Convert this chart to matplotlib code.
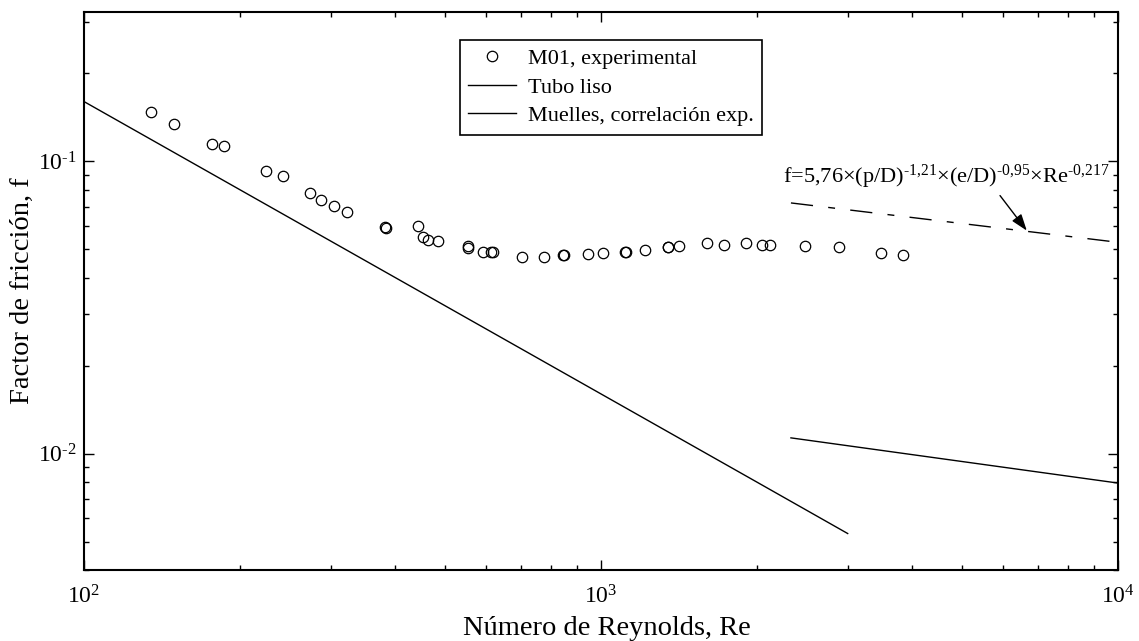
import matplotlib
matplotlib.use("Agg")
import matplotlib.pyplot as plt
from matplotlib.ticker import LogLocator, NullFormatter, FuncFormatter
import numpy as np

plt.rcParams["font.family"] = ["Liberation Serif", "DejaVu Serif"]
plt.rcParams["mathtext.fontset"] = "custom"
plt.rcParams["mathtext.rm"] = "Liberation Serif"
plt.rcParams["mathtext.it"] = "Liberation Serif:italic"
plt.rcParams["mathtext.default"] = "regular"

# M01 spring insert, measured friction factor
re_exp = [134.6, 149.5, 176.6, 186.8, 224.9, 242.6, 273.6, 287.0, 304.6, 322.7,
          382.6, 383.5, 442.0, 453.0, 463.0, 484.5, 552.0, 552.5, 590.0, 612.0,
          618.0, 704.0, 776.0, 843.0, 848.0, 944.0, 1010.0, 1112.0, 1118.0, 1216.0,
          1345.0, 1350.0, 1415.0, 1603.0, 1729.0, 1908.0, 2048.0, 2123.0, 2481.0,
          2886.0, 3480.0, 3838.0]
f_exp = [0.147, 0.134, 0.1147, 0.1126, 0.0924, 0.0888, 0.0777, 0.0737, 0.0705, 0.0672,
         0.0594, 0.0592, 0.0602, 0.0549, 0.0539, 0.0535, 0.0514, 0.0503, 0.0489, 0.0490,
         0.0489, 0.0469, 0.0469, 0.0479, 0.0478, 0.0481, 0.0484, 0.0491, 0.0488, 0.0498,
         0.0510, 0.0508, 0.0514, 0.0524, 0.0518, 0.0524, 0.0518, 0.0518, 0.0514,
         0.0507, 0.0486, 0.0478]

# smooth tube, laminar
re_liso = [100, 200, 500, 1000, 2000, 3000]
f_liso = [0.16, 0.08, 0.032, 0.016, 0.008, 0.00533]

# spring correlation curves
re_corr = [2330, 10000]
f_corr_low = [0.01132, 0.00793]
f_corr = [0.0720, 0.0528]


def pow10(v, pos):
    e = int(round(np.log10(v)))
    if e < 0:
        return "10$^{\\text{-}%d}$" % (-e)
    return "10$^{%d}$" % e


fig = plt.figure(figsize=(11.39, 6.41), dpi=100)
ax = fig.add_axes([0.0737, 0.1108, 0.9079, 0.8712])

ax.plot(re_exp, f_exp, "o", mfc="none", mec="k", ms=7.5, mew=0.9,
        label="M01, experimental")
ax.plot(re_liso, f_liso, "k-", lw=1.0, label="Tubo liso")
ax.plot(re_corr, f_corr_low, "k-", lw=1.0, label="Muelles, correlación exp.")
ax.plot(re_corr, f_corr, color="k", lw=1.0, dashes=(16, 11, 5, 11))

ax.set_xscale("log")
ax.set_yscale("log")
ax.set_xlim(100, 1e4)
ax.set_ylim(0.004, 0.325)

for axis in (ax.xaxis, ax.yaxis):
    axis.set_minor_locator(LogLocator(base=10, subs=range(2, 10)))
    axis.set_minor_formatter(NullFormatter())
    axis.set_major_formatter(FuncFormatter(pow10))
ax.tick_params(which="both", direction="in", top=True, right=True, width=1.0,
               labelsize=17)
ax.tick_params(axis="x", pad=11)
ax.tick_params(axis="y", pad=5)
ax.tick_params(which="major", length=7)
ax.tick_params(which="minor", length=3.6)
for sp in ax.spines.values():
    sp.set_linewidth(1.5)

ax.set_xlabel("Número de Reynolds, Re", fontsize=20.5)
ax.set_ylabel("Factor de fricción, f", fontsize=20.5)
ax.xaxis.set_label_coords(0.506, -0.082)
ax.yaxis.set_label_coords(-0.047, 0.5)

ax.text(2250, 0.0845,
        "f=5,76×(p/D)$^{\\text{-}1{,}21}$×(e/D)$^{\\text{-}0{,}95}$×Re$^{\\text{-}0{,}217}$",
        fontsize=16.1, ha="left", va="baseline")
ax.annotate("", xy=(6660, 0.0579), xytext=(5912, 0.0763),
            arrowprops=dict(arrowstyle="-|>,head_length=1.0,head_width=0.35",
                            color="k", lw=1.0, shrinkA=0, shrinkB=0))

leg = ax.legend(loc="upper left", bbox_to_anchor=(460 / 1139, 1 - 40 / 641),
                bbox_transform=fig.transFigure, borderaxespad=0,
                fontsize=16, fancybox=False, framealpha=1, edgecolor="k",
                handlelength=2.16, handletextpad=0.5, labelspacing=0.36,
                borderpad=0.38)
leg.get_frame().set_linewidth(1.2)

fig.savefig("out.png", dpi=100)
